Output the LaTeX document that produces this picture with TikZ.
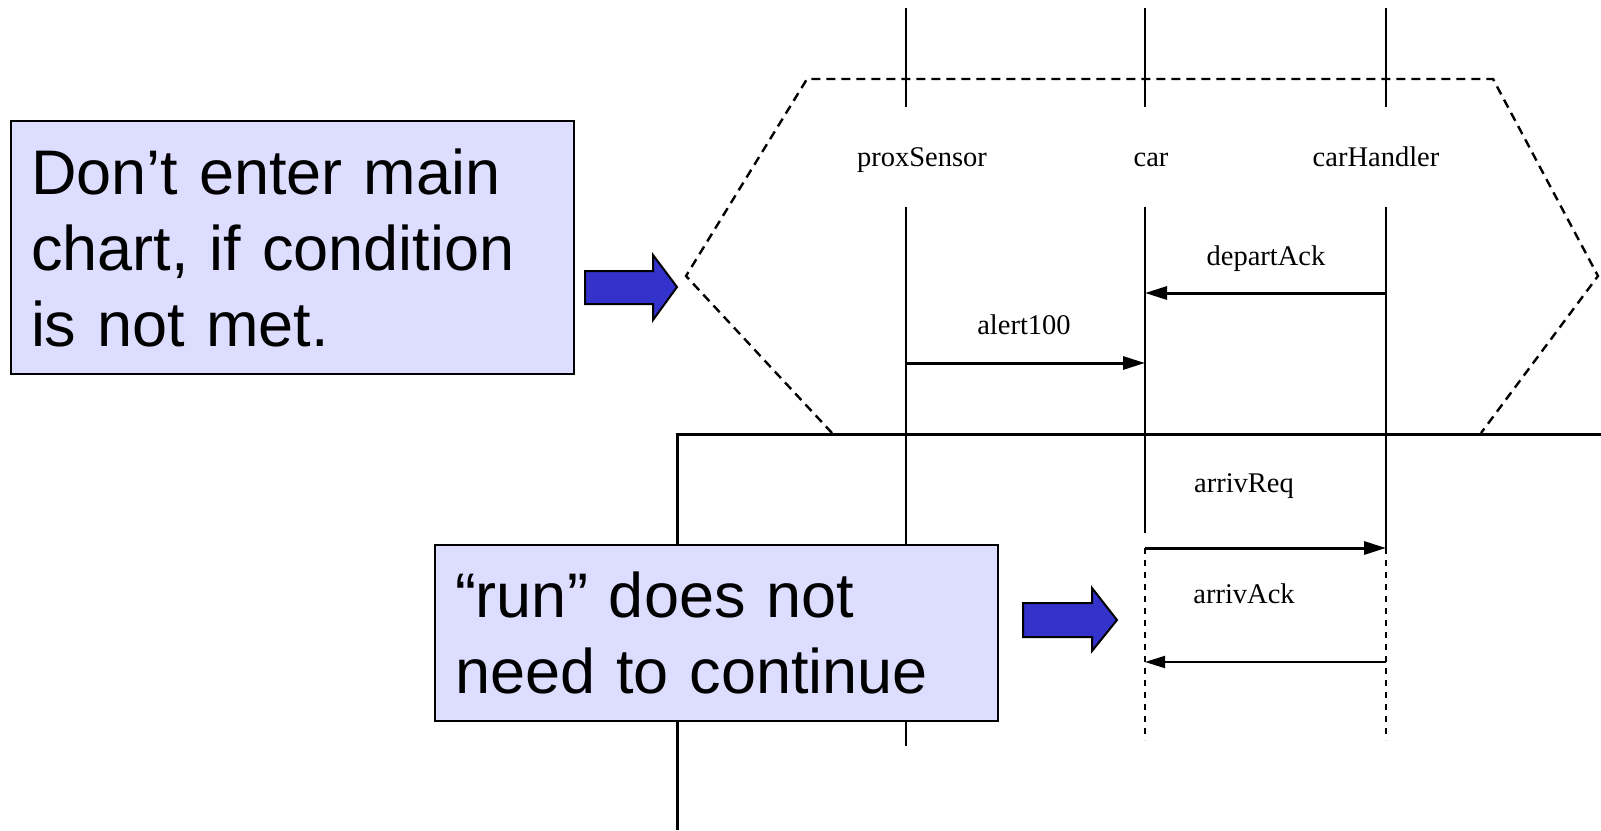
\documentclass[tikz,border=0pt]{standalone}
\usepackage{fontspec}
\setmainfont{Liberation Sans}
\newfontfamily\chartfont{Liberation Serif}
\usetikzlibrary{arrows.meta}
\definecolor{notefill}{RGB}{221,221,255}
\definecolor{pointerblue}{RGB}{51,51,204}
\begin{document}
\begin{tikzpicture}[x=1pt,y=-1pt,
  lifeline/.style={line width=2pt},
  lifedash/.style={line width=2pt, dash pattern=on 6pt off 6pt},
  hexdash/.style={line width=2.4pt, dash pattern=on 9pt off 6pt},
  frameline/.style={line width=3pt},
  msg/.style={line width=3pt, -{Triangle[length=22pt,width=13pt]}},
  msgthin/.style={line width=2pt, -{Triangle[length=20pt,width=12pt]}},
  chartlabel/.style={font=\chartfont\fontsize{28.5}{30}\selectfont, anchor=base, inner sep=0pt},
  notebox/.style={draw=black, line width=2pt, fill=notefill, anchor=north west,
    inner xsep=20pt, inner ysep=0pt, text width=523pt, align=left,
    font=\fontsize{63}{76}\selectfont},
  pointer/.style={draw=black, line width=2pt, fill=pointerblue, line join=miter}
]
\useasboundingbox (0,0) rectangle (1601,830);

% lifeline end points
\coordinate (pTop) at (906,8);   \coordinate (pMid) at (906,107);
\coordinate (pLow) at (906,207); \coordinate (pEnd) at (906,746);
\coordinate (cTop) at (1145,8);  \coordinate (cMid) at (1145,107);
\coordinate (cLow) at (1145,207);\coordinate (cSolid) at (1145,533);
\coordinate (cDash) at (1145,548);\coordinate (cEnd) at (1145,740);
\coordinate (hTop) at (1386,8);  \coordinate (hMid) at (1386,107);
\coordinate (hLow) at (1386,207);\coordinate (hDash) at (1386,548);
\coordinate (hEnd) at (1386,740);

% prechart hexagon
\coordinate (hxTL) at (807,79);  \coordinate (hxTR) at (1493,79);
\coordinate (hxL) at (686,276);  \coordinate (hxR) at (1598,276);
\coordinate (hxBL) at (832,433); \coordinate (hxBR) at (1481,433);
\draw[hexdash] (hxBL) -- (hxL) -- (hxTL) -- (hxTR) -- (hxR) -- (hxBR);

% main chart frame
\coordinate (frCorner) at (677,434);
\coordinate (frRight) at (1601,434);
\coordinate (frBottom) at (677,830);
\draw[frameline] (frRight) -- (frCorner) -- (frBottom);

% lifelines
\draw[lifeline] (pTop) -- (pMid) (pLow) -- (pEnd);
\draw[lifeline] (cTop) -- (cMid) (cLow) -- (cSolid);
\draw[lifeline] (hTop) -- (hMid) (hLow) -- (hDash);
\draw[lifedash] (cDash) -- (cEnd);
\draw[lifedash] (hDash) -- (hEnd);

% instance names
\node[chartlabel] (lblProx) at (922,166) {proxSensor};
\node[chartlabel] (lblCar) at (1151,166) {car};
\node[chartlabel] (lblHandler) at (1376,166) {carHandler};

% messages
\coordinate (yDepart) at (0,293);
\coordinate (yAlert) at (0,363);
\coordinate (yReq) at (0,548);
\coordinate (yAck) at (0,662);
\draw[msg] (hLow |- yDepart) -- (cLow |- yDepart);
\draw[msg] (pLow |- yAlert) -- (cLow |- yAlert);
\draw[msg] (cLow |- yReq) -- (hLow |- yReq);
\draw[msgthin] (hLow |- yAck) -- (cLow |- yAck);
\node[chartlabel] (lblDepart) at (1266,265) {departAck};
\node[chartlabel] (lblAlert) at (1024,334) {alert100};
\node[chartlabel] (lblReq) at (1244,492) {arrivReq};
\node[chartlabel] (lblAck) at (1244,603) {arrivAck};

% notes
\node[notebox, minimum height=253pt] (noteCond) at (10,120)
  {Don’t enter main chart, if condition is not met.};
\node[notebox, minimum height=176pt] (noteRun) at (434,544)
  {“run” does not need to continue};

% pointers
\draw[pointer] (585,271) -- (653,271) -- (653,255) -- (677,287) -- (653,320)
  -- (653,304) -- (585,304) -- cycle;
\draw[pointer] (1023,603) -- (1092,603) -- (1092,588) -- (1117,620) -- (1092,651)
  -- (1092,637) -- (1023,637) -- cycle;
\end{tikzpicture}
\end{document}
